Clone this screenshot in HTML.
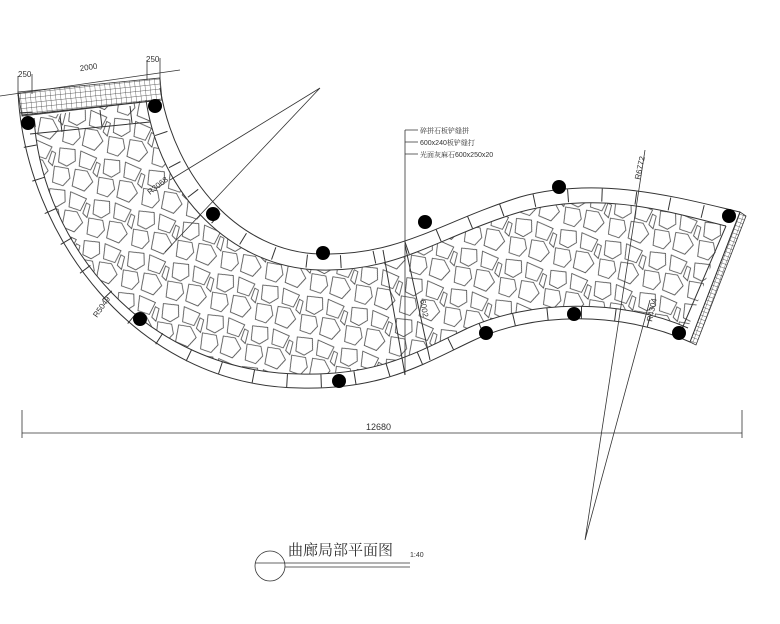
<!DOCTYPE html>
<html><head><meta charset="utf-8"><style>
html,body{margin:0;padding:0;background:#fff;}
svg{display:block;}
text{font-family:"Liberation Sans","Noto Serif CJK SC",sans-serif;fill:#333;}
</style></head><body>
<svg width="780" height="624" viewBox="0 0 780 624" xmlns="http://www.w3.org/2000/svg">
<defs>
<pattern id="st" width="46" height="42" patternUnits="userSpaceOnUse" patternTransform="rotate(14)">
<g fill="none" stroke="#444" stroke-width="0.8">
<path d="M2,3 L17,1 L20,12 L13,19 L4,17 Z"/>
<path d="M23,1 L40,4 L37,17 L25,16 Z"/>
<path d="M1,22 L15,21 L19,30 L14,39 L3,38 Z"/>
<path d="M22,20 L34,19 L42,28 L36,39 L23,37 Z"/>
<path d="M41,8 L45,9 L45,22 L40,19 Z"/>
</g>
</pattern>
<pattern id="gr" width="5" height="5" patternUnits="userSpaceOnUse" patternTransform="rotate(-6)">
<path d="M0,0 H5 M0,0 V5" stroke="#333" stroke-width="0.7" fill="none"/>
</pattern>
<pattern id="gr2" width="4" height="4" patternUnits="userSpaceOnUse" patternTransform="rotate(20)">
<path d="M0,0 H4 M0,0 V4" stroke="#333" stroke-width="0.7" fill="none"/>
</pattern>
<clipPath id="inner">
<path d="M34,118 C42,245 145,372 300,374 C378,376 418,352 468,328 C530,300 620,298 688,328 L726,226 C670,212 600,190 520,212 C440,236 400,272 320,270 C232,268 160,195 146,100 Z"/>
</clipPath>
</defs>
<g clip-path="url(#inner)"><rect x="0" y="0" width="780" height="420" fill="url(#st)"/></g>
<g fill="none" stroke="#333" stroke-width="1">
<!-- joints via dashed thick midline -->
<path d="M26,112 C33,240 140,379 300,381 C379,383 419,359 469,335 C530,306 620,304 689,335" stroke-width="13" stroke-dasharray="1 33"/>
<path d="M153,100 C167,187 236,260 320,262 C400,264 440,229 520,204 C600,182 675,205 733,219" stroke-width="13" stroke-dasharray="1 33"/>
<!-- band outlines -->
<path d="M18,92 C25,235 135,386 300,388 C380,390 420,366 470,342 C530,312 620,310 690,342"/>
<path d="M34,118 C42,245 145,372 300,374 C378,376 418,352 468,328 C530,300 620,298 688,328"/>
<path d="M160,88 C175,180 240,252 320,254 C400,256 440,222 520,197 C600,175 680,198 740,212"/>
<path d="M146,100 C160,195 232,268 320,270 C400,272 440,236 520,212 C600,190 670,212 726,226"/>
<path d="M740,212 L690,342 M726,226 L678,338"/>
<path d="M22,115 L160,100 M30,134 L150,122"/>
<path d="M60,116 L62,132 M100,110 L102,127 M130,106 L132,123"/>
<path d="M383,250 L405,375 M405,245 L430,360"/>
</g>
<!-- hatch strips -->
<path d="M18,92 L160,78 L162,100 L22,116 Z" fill="url(#gr)" stroke="#333" stroke-width="0.8"/>
<path d="M740,212 L746,216 L696,345 L690,342 Z" fill="url(#gr2)" stroke="#333" stroke-width="0.8"/>
<!-- dots -->
<g fill="#000">
<circle cx="28" cy="123" r="7"/><circle cx="155" cy="106" r="7"/><circle cx="213" cy="214" r="7"/>
<circle cx="323" cy="253" r="7"/><circle cx="425" cy="222" r="7"/><circle cx="559" cy="187" r="7"/>
<circle cx="729" cy="216" r="7"/><circle cx="140" cy="319" r="7"/><circle cx="339" cy="381" r="7"/>
<circle cx="486" cy="333" r="7"/><circle cx="574" cy="314" r="7"/><circle cx="679" cy="333" r="7"/>
</g>
<g stroke="#333" stroke-width="0.8" fill="none">
<path d="M0,96 L180,70 M18,76 L18,96 M32,74 L32,94 M147,60 L147,80 M160,58 L160,78"/>
<path d="M320,88 L170,180 M320,88 L165,252"/>
<path d="M585,540 L645,150 M585,540 L650,300"/>
<path d="M405,130 L405,375 M405,130 L418,130 M405,142 L418,142 M405,154 L418,154"/>
<path d="M22,433 L742,433 M22,410 L22,438 M742,410 L742,438"/>
<circle cx="270" cy="566" r="15"/>
<path d="M255,563 L410,563 M285,567 L410,567"/>
</g>
<text x="18" y="77" font-size="8">250</text>
<text x="80" y="70" font-size="8" transform="rotate(-8 88 70)">2000</text>
<text x="146" y="62" font-size="8">250</text>
<text x="150" y="195" font-size="8" transform="rotate(-38 150 195)">R3068</text>
<text x="97" y="318" font-size="8" transform="rotate(-55 97 318)">R5049</text>
<text x="640" y="180" font-size="8" transform="rotate(-78 640 180)">R6772</text>
<text x="652" y="322" font-size="8" transform="rotate(-78 652 322)">R4304</text>
<text x="420" y="300" font-size="8" transform="rotate(80 420 300)">6002</text>
<text x="420" y="133" font-size="7">碎拼石板铲缝拼</text>
<text x="420" y="145" font-size="7">600x240板铲缝打</text>
<text x="420" y="157" font-size="7">光面灰麻石600x250x20</text>
<text x="366" y="430" font-size="9">12680</text>
<text x="288" y="555" font-size="15" style="font-family:'Noto Serif CJK SC',serif">曲廊局部平面图</text>
<text x="410" y="557" font-size="7">1:40</text>
</svg>
</body></html>
